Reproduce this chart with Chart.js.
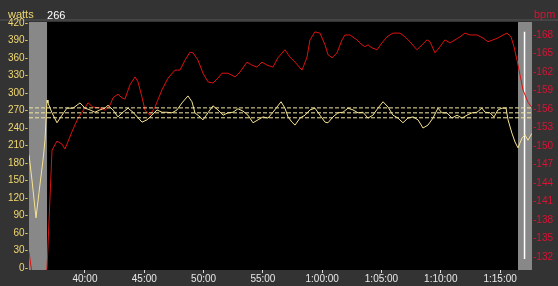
<!DOCTYPE html>
<html lang="en">
<head>
  <meta charset="UTF-8">
  <title>Power and heart rate</title>
  <script src="https://cdn.jsdelivr.net/npm/chart.js"></script>
  <style>
    body {
      margin: 0;
      background: #333333;
    }
    canvas {
      display: block;
    }
  </style>
</head>
<body>
  <canvas id="rideChart" width="558" height="286"></canvas>

<script>
  // time in minutes from start of ride
  const powerTimes = [35.28, 35.53, 35.87, 36.12, 36.46, 36.63, 36.80, 36.88, 37.22, 37.64, 38.06, 38.48, 38.99, 39.58, 40.00, 40.42, 40.84, 41.26, 41.69, 41.94, 42.36, 42.78, 43.20, 43.63, 44.05, 44.81, 45.23, 45.65, 46.07, 46.49, 46.91, 47.34, 47.76, 48.18, 48.68, 49.02, 49.27, 49.70, 49.95, 50.37, 50.79, 51.21, 51.64, 52.06, 52.48, 52.90, 53.32, 53.74, 54.17, 54.59, 55.01, 55.43, 55.85, 56.19, 56.53, 56.86, 57.12, 57.45, 57.71, 58.13, 58.55, 58.97, 59.39, 59.81, 60.24, 60.49, 60.91, 61.33, 61.75, 62.18, 62.60, 63.02, 63.44, 63.86, 64.28, 64.70, 65.13, 65.55, 65.97, 66.39, 66.81, 67.23, 67.66, 68.08, 68.50, 68.92, 69.34, 69.76, 70.10, 70.52, 70.94, 71.37, 71.79, 72.21, 72.63, 73.05, 73.47, 73.73, 74.15, 74.49, 74.82, 75.16, 75.50, 75.67, 76.00, 76.26, 76.51, 76.85, 77.10, 77.35, 77.69];
  const powerWatts = [194, 151, 86, 129, 185, 219, 288, 283, 266, 249, 262, 274, 274, 283, 274, 271, 267, 271, 274, 279, 271, 259, 267, 274, 267, 250, 254, 262, 271, 267, 267, 266, 271, 283, 295, 285, 266, 259, 254, 266, 278, 271, 262, 266, 267, 273, 269, 262, 249, 254, 259, 257, 267, 276, 285, 274, 259, 250, 245, 257, 262, 271, 274, 262, 250, 249, 259, 266, 267, 274, 271, 266, 267, 257, 262, 274, 285, 276, 262, 257, 249, 257, 259, 254, 240, 245, 257, 274, 266, 266, 257, 262, 257, 262, 266, 267, 274, 267, 266, 259, 271, 274, 274, 254, 231, 216, 206, 223, 228, 219, 231];

  const hrTimes = [35.28, 35.53, 36.71, 36.80, 37.22, 37.64, 38.06, 38.31, 38.90, 39.41, 40.00, 40.25, 40.67, 41.26, 41.69, 42.11, 42.36, 42.78, 43.12, 43.37, 43.79, 44.22, 44.47, 44.81, 45.06, 45.48, 45.90, 46.49, 47.00, 47.59, 48.01, 48.43, 48.85, 49.11, 49.53, 49.95, 50.37, 50.79, 51.21, 51.55, 52.06, 52.65, 53.07, 53.66, 54.08, 54.50, 54.92, 55.35, 55.85, 56.27, 56.86, 57.29, 57.71, 58.30, 58.72, 58.97, 59.39, 59.81, 60.24, 60.49, 60.83, 61.25, 61.67, 61.92, 62.34, 62.93, 63.36, 63.61, 63.86, 64.20, 64.62, 65.04, 65.46, 65.97, 66.56, 66.98, 67.40, 67.99, 68.42, 68.84, 69.09, 69.51, 69.93, 70.35, 70.78, 71.20, 71.62, 72.04, 72.46, 73.05, 73.56, 73.98, 74.40, 74.82, 75.25, 75.58, 75.92, 76.17, 76.43, 76.68, 76.93, 77.35, 77.69];
  const hrBpm = [132.8, 129.4, 129.1, 130.2, 149.3, 150.8, 150.3, 149.5, 152.3, 154.5, 156.2, 157.0, 156.3, 156.2, 155.8, 156.6, 157.8, 158.4, 157.8, 157.6, 159.9, 161.2, 160.4, 157.9, 155.8, 155.0, 156.3, 159.1, 161.0, 162.3, 162.3, 163.9, 165.2, 165.1, 163.9, 161.8, 160.4, 160.2, 161.0, 161.8, 161.8, 161.2, 162.0, 163.6, 163.1, 162.8, 163.6, 163.1, 162.8, 164.3, 165.6, 164.4, 163.6, 162.3, 164.4, 167.2, 168.5, 168.3, 166.4, 164.8, 164.3, 165.1, 167.2, 168.0, 168.0, 167.2, 166.4, 166.1, 166.4, 165.9, 165.6, 166.7, 167.7, 168.3, 168.3, 167.7, 166.9, 165.6, 166.4, 167.2, 166.9, 165.1, 166.1, 167.2, 166.7, 167.2, 167.7, 168.3, 168.0, 168.0, 167.5, 166.9, 167.2, 167.5, 168.0, 168.3, 167.7, 166.1, 163.9, 161.5, 159.1, 157.1, 156.2];

  const avgPower = 266;
  const powerBand = [257.5, 266, 274.5];
  const shadeBands = [[35.28, 36.80], [76.51, 77.69]];
  const cursorTime = 77.06;
  const cursorBpm = [168.5, 131.7];

  const timeRange = [35.28, 77.69];
  const timeTicks = [40, 45, 50, 55, 60, 65, 70, 75];
  const wattTicks = [0, 30, 60, 90, 120, 150, 180, 210, 240, 270, 300, 330, 360, 390, 420];
  const bpmTicks = [132, 135, 138, 141, 144, 147, 150, 153, 156, 159, 162, 165, 168];

  function fmtTime(min) {
    const total = Math.round(min * 60);
    const h = Math.floor(total / 3600);
    const m = Math.floor((total % 3600) / 60);
    const s = total % 60;
    const mm = String(m).padStart(h ? 2 : 1, '0');
    const ss = String(s).padStart(2, '0');
    return h ? `${h}:${mm}:${ss}` : `${mm}:${ss}`;
  }

  const powerPoints = powerTimes.map((t, i) => ({ x: t, y: powerWatts[i] }));
  const hrPoints = hrTimes.map((t, i) => ({ x: t, y: hrBpm[i] }));

  const bandSets = powerBand.map(v => ({
    data: [{ x: timeRange[0], y: v }, { x: timeRange[1], y: v }],
    borderColor: '#f3e6a0',
    borderWidth: 1,
    borderDash: [4, 2],
    pointRadius: 0,
    yAxisID: 'y'
  }));

  const framePlugin = {
    id: 'frame',
    beforeDraw(chart) {
      const { ctx, chartArea: a, scales } = chart;
      ctx.save();
      ctx.fillStyle = '#333333';
      ctx.fillRect(0, 0, chart.width, chart.height);
      ctx.fillStyle = '#444444';
      ctx.fillRect(0, a.top - 3, chart.width, 2);
      ctx.fillStyle = '#000000';
      ctx.fillRect(a.left, a.top, a.right - a.left, a.bottom - a.top);
      ctx.fillStyle = '#888888';
      shadeBands.forEach(b => {
        const x1 = scales.x.getPixelForValue(b[0]);
        const x2 = scales.x.getPixelForValue(b[1]);
        ctx.fillRect(x1, a.top, x2 - x1, a.bottom - a.top);
      });
      ctx.restore();
    },
    afterDraw(chart) {
      const { ctx, chartArea: a, scales } = chart;
      ctx.save();
      ctx.font = '11px "Liberation Sans", Arial, sans-serif';
      ctx.textBaseline = 'middle';
      ctx.textAlign = 'left';
      ctx.fillStyle = '#f0d870';
      ctx.fillText('watts', 8, 15);
      ctx.fillStyle = '#ffffff';
      ctx.fillText(String(avgPower), scales.x.getPixelForValue(shadeBands[0][1]), 16);
      ctx.fillStyle = '#dd1133';
      ctx.fillText('bpm', a.right + 2, 15);
      ctx.restore();
    }
  };

  new Chart(document.getElementById('rideChart'), {
    type: 'line',
    data: {
      datasets: [
        ...bandSets,
        {
          data: hrPoints,
          borderColor: '#dd1111',
          borderWidth: 1,
          pointRadius: 0,
          yAxisID: 'y1'
        },
        {
          data: powerPoints,
          borderColor: '#f6e390',
          borderWidth: 1,
          pointRadius: 0,
          yAxisID: 'y'
        },
        {
          data: [{ x: cursorTime, y: cursorBpm[0] }, { x: cursorTime, y: cursorBpm[1] }],
          borderColor: '#ffffff',
          borderWidth: 1.5,
          pointRadius: 0,
          yAxisID: 'y1'
        }
      ]
    },
    options: {
      responsive: false,
      devicePixelRatio: 1,
      animation: false,
      layout: { padding: { top: 22, left: 0, right: 0, bottom: 0 } },
      plugins: {
        legend: { display: false },
        tooltip: { enabled: false }
      },
      scales: {
        x: {
          type: 'linear',
          min: timeRange[0],
          max: timeRange[1],
          afterBuildTicks: s => { s.ticks = timeTicks.map(v => ({ value: v })); },
          afterFit: s => { s.height = 16; },
          grid: { drawOnChartArea: false, color: '#dddddd', tickLength: 3, drawTicks: true },
          border: { display: false },
          ticks: {
            color: '#e8e8e8',
            padding: 0,
            maxRotation: 0,
            font: { family: '"Liberation Sans", Arial, sans-serif', size: 10 },
            callback: v => fmtTime(v)
          }
        },
        y: {
          position: 'left',
          min: -3.4,
          max: 421.7,
          afterBuildTicks: s => { s.ticks = wattTicks.map(v => ({ value: v })); },
          afterFit: s => { s.width = 29; },
          grid: { display: false, drawTicks: false },
          border: { display: false },
          ticks: {
            color: '#f0d870',
            padding: 1,
            font: { family: '"Liberation Sans", Arial, sans-serif', size: 10 },
            callback: v => v + '-'
          }
        },
        y1: {
          position: 'right',
          min: 129.9,
          max: 170.1,
          afterBuildTicks: s => { s.ticks = bpmTicks.map(v => ({ value: v })); },
          afterFit: s => { s.width = 26; },
          grid: { display: false, drawTicks: false },
          border: { display: false },
          ticks: {
            color: '#dd1133',
            padding: 1,
            font: { family: '"Liberation Sans", Arial, sans-serif', size: 10 },
            callback: v => '-' + v
          }
        }
      }
    },
    plugins: [framePlugin]
  });
</script>
</body>
</html>
